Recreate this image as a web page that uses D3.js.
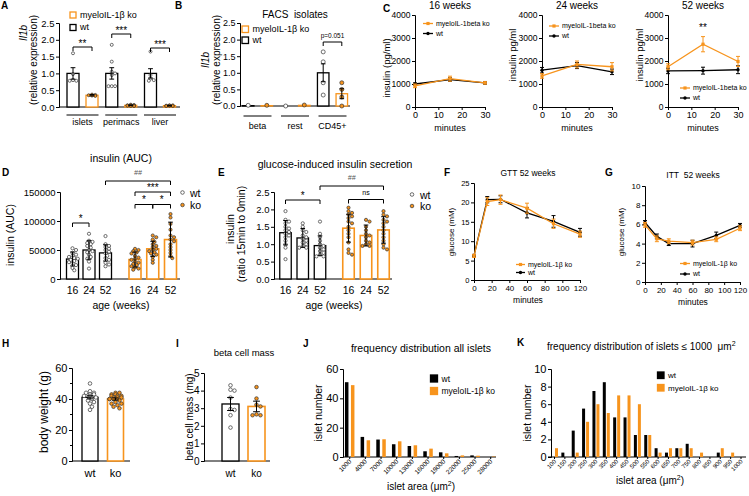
<!DOCTYPE html>
<html>
<head>
<meta charset="utf-8">
<script src="https://cdn.jsdelivr.net/npm/d3@7"></script>
<style>
body { margin: 0; background: #fff; }
svg { display: block; }
</style>
</head>
<body>
<div id="chart"></div>
<script>
var ORANGE = "#f7941d";

// A: Il1b expression
var aGroups = ["islets", "perimacs", "liver"];
var aWtMean = [1.0, 1.0, 1.0], aWtSem = [0.17, 0.17, 0.14];
var aKoMean = [0.35, 0.05, 0.04], aKoSem = [0.02, 0.01, 0.01];
var aWtPts = [[1.6, 0.98, 0.8, 0.78, 0.78], [1.85, 1.35, 1.05, 1.0, 0.95, 0.62, 0.62, 0.62], [1.65, 0.95, 0.85, 0.8, 0.78]];
var aKoPts = [[0.37, 0.36, 0.35, 0.34, 0.33], [0.07, 0.06, 0.05, 0.05, 0.04, 0.04, 0.03, 0.03], [0.05, 0.05, 0.04, 0.04, 0.03, 0.03]];
var relTicks = [0, 0.5, 1, 1.5, 2, 2.5];

// B: FACS isolates
var bGroups = ["beta", "rest", "CD45+"];
var bWtMean = [0.01, 0.0, 1.0], bWtSem = [0, 0, 0.27];
var bKoMean = [0.01, 0.02, 0.37], bKoSem = [0, 0, 0.15];
var bWtPts = [[0.02], [0.0], [1.63, 1.33, 0.7, 0.33]];
var bKoPts = [[0.02], [0.03], [0.7, 0.5, 0.27, 0.0]];

// C: insulin during GTT
var cMinutes = [0, 15, 30];
var cTicksX = [0, 10, 20, 30];
var cTicksY = [0, 1000, 2000, 3000, 4000];
var c16Ko = [920, 1230, 1050], c16KoErr = [80, 110, 50];
var c16Wt = [1000, 1190, 1050], c16WtErr = [50, 80, 60];
var c24Ko = [1350, 1850, 1750], c24KoErr = [100, 150, 180];
var c24Wt = [1600, 1800, 1530], c24WtErr = [120, 130, 120];
var c52Ko = [1750, 2730, 1980], c52KoErr = [130, 330, 220];
var c52Wt = [1570, 1580, 1620], c52WtErr = [120, 150, 170];

// D: insulin AUC
var ages = ["16", "24", "52"];
var dWtMean = [34500, 50000, 45000], dWtSd = [12000, 16000, 14000];
var dKoMean = [33500, 52000, 68000], dKoSd = [13000, 13000, 30000];
var dWtPts = [
  [53000, 50000, 45000, 42000, 40000, 38000, 36000, 35000, 33000, 31000, 29000, 27000, 24000, 19000, 15000],
  [78000, 66000, 64000, 62000, 60000, 57000, 54000, 50000, 48000, 46000, 42000, 38000, 35000, 30000, 18000],
  [74000, 60000, 57000, 55000, 52000, 50000, 47000, 44000, 40000, 36000, 33000, 28000, 25000, 22000]];
var dKoPts = [
  [52000, 50000, 48000, 46000, 44000, 40000, 37000, 35000, 33000, 30000, 28000, 26000, 24000, 22000, 20000, 18000, 16000],
  [75000, 72000, 68000, 64000, 60000, 57000, 55000, 52000, 50000, 48000, 46000, 44000, 42000, 38000, 33000, 28000],
  [112000, 106000, 95000, 85000, 75000, 72000, 68000, 65000, 60000, 55000, 50000, 45000, 40000, 36000]];
var dTicks = [0, 50000, 100000, 150000];

// E: glucose-induced insulin secretion
var eWtMean = [1.33, 1.18, 0.96], eWtSd = [0.35, 0.27, 0.28];
var eKoMean = [1.46, 1.25, 1.41], eKoSd = [0.4, 0.3, 0.38];
var eWtPts = [
  [1.95, 1.7, 1.65, 1.6, 1.5, 1.45, 1.4, 1.35, 1.3, 1.25, 1.2, 1.1, 1.0, 0.9, 0.57],
  [1.6, 1.5, 1.4, 1.35, 1.25, 1.2, 1.15, 1.1, 1.05, 1.0, 0.95, 0.9, 0.9],
  [1.65, 1.3, 1.2, 1.1, 1.0, 0.95, 0.9, 0.85, 0.8, 0.75, 0.7, 0.65, 0.65]];
var eKoPts = [
  [2.05, 1.95, 1.9, 1.85, 1.8, 1.75, 1.65, 1.6, 1.5, 1.4, 1.3, 1.2, 1.05, 0.85, 0.75, 0.7],
  [1.7, 1.65, 1.5, 1.4, 1.3, 1.25, 1.2, 1.1, 1.05, 1.0, 0.95, 0.95],
  [1.95, 1.85, 1.8, 1.7, 1.65, 1.6, 1.5, 1.4, 1.3, 1.2, 1.1, 1.0, 0.9, 0.85]];

// F, G: GTT and ITT at 52 weeks
var ttMinutes = [0, 15, 30, 60, 90, 120];
var ttTicksX = [0, 20, 40, 60, 80, 100, 120];
var gttKo = [6.2, 20.2, 20.7, 18.5, 14.5, 11.8], gttKoErr = [0.4, 1.0, 1.2, 1.3, 1.2, 0.8];
var gttWt = [6.3, 20.7, 20.8, 17.3, 15.1, 12.3], gttWtErr = [0.3, 0.8, 0.9, 1.3, 1.5, 1.0];
var gttTicksY = [0, 5, 10, 15, 20, 25];
var ittKo = [5.95, 4.5, 4.25, 4.1, 4.45, 5.6], ittKoErr = [0.25, 0.3, 0.25, 0.25, 0.25, 0.25];
var ittWt = [6.2, 4.75, 4.0, 4.0, 4.85, 5.9], ittWtErr = [0.2, 0.25, 0.2, 0.35, 0.35, 0.2];
var ittTicksY = [0, 2, 4, 6, 8, 10];

// H: body weight, I: beta cell mass
var hMean = [41.1, 40.0], hSem = [1.0, 0.7];
var hWtPts = [50, 45, 44, 44, 43, 43, 42, 42, 41, 40, 39, 38, 37, 35, 33];
var hKoPts = [44, 44, 43, 43, 42, 42, 42, 41, 41, 41, 40, 40, 40, 39, 38, 37, 37, 36, 35, 34];
var iMean = [3.24, 3.1], iSem = [0.37, 0.3];
var iWtPts = [4.3, 4.05, 4.0, 3.6, 2.95, 2.9, 2.6, 1.9];
var iKoPts = [4.2, 3.55, 3.2, 3.1, 2.65, 2.6, 2.6];

// J, K: islet size distributions
var jCats = ["1000", "4000", "7000", "10000", "13000", "16000", "19000", "22000", "25000", "28000"];
var jWt = [51, 13.7, 11.9, 8.7, 7.5, 3.9, 3.2, 0.7, 1.1, 0];
var jKo = [49, 11.4, 12.1, 10.7, 8, 5.7, 2.5, 1.1, 0.9, 0.3];
var kCats = ["100", "150", "200", "250", "300", "350", "400", "450", "500", "550", "600", "650", "700", "750", "800", "850", "900", "950", "1000"];
var kWt = [0, 0.5, 3, 5.5, 7.5, 8.5, 4.5, 4.5, 2.5, 2.5, 1, 0.5, 1, 1.5, 0, 0, 0.5, 0, 0];
var kKo = [1, 0, 0.5, 4, 6, 5, 7, 7, 6, 2.5, 0.5, 1, 1, 1, 0.5, 0, 1, 0.5, 0];

var svg = d3.select("#chart").append("svg")
    .attr("width", 749)
    .attr("height", 496)
    .attr("font-family", "Liberation Sans, Arial, sans-serif");
svg.append("rect").attr("width", 749).attr("height", 496).attr("fill", "#fff");

function label(x, y, s, size, anchor) {
    return svg.append("text").attr("x", x).attr("y", y).attr("font-size", size)
        .attr("text-anchor", anchor || "middle").text(s);
}
function vlabel(x, y, s, size) {
    return svg.append("text").attr("transform", "translate(" + x + "," + y + ") rotate(-90)")
        .attr("font-size", size).attr("text-anchor", "middle").text(s);
}
function letter(x, y, s) {
    label(x, y, s, 10, "start").attr("font-weight", "bold");
}
function line(d, w, color) {
    return svg.append("path").attr("d", d).attr("fill", "none")
        .attr("stroke", color || "#000").attr("stroke-width", w || 1);
}
function yAxis(x, y, ticks, size, fmt) {
    var g = svg.append("g").attr("transform", "translate(" + x + ",0)")
        .call(d3.axisLeft(y).tickValues(ticks).tickFormat(fmt || d3.format("d"))
            .tickSizeOuter(0).tickSize(3).tickPadding(1.5));
    g.attr("font-family", null).attr("font-size", size);
    g.selectAll("line,path").attr("stroke", "#000");
    return g;
}
function xAxis(yPos, x, ticks, size) {
    var g = svg.append("g").attr("transform", "translate(0," + yPos + ")")
        .call(d3.axisBottom(x).tickValues(ticks).tickSizeOuter(0).tickSize(3).tickPadding(2));
    g.attr("font-family", null).attr("font-size", size);
    g.selectAll("line,path").attr("stroke", "#000");
    return g;
}
function bracket(x1, x2, y, s, size, dy, color, italic) {
    line("M" + x1 + "," + (y + 4) + "V" + y + "H" + x2 + "V" + (y + 4));
    var t = label((x1 + x2) / 2, y - dy, s, size).attr("fill", color || "#000");
    if (italic) t.attr("font-style", "italic");
}

// simple beeswarm so dots do not sit on top of each other
function swarm(vals, y, r, w) {
    var placed = [], lim = Math.max(0, w / 2 - r * 0.3);
    vals.slice().sort(function(a, b) { return b - a; }).forEach(function(v) {
        var cy = y(v), best = 0, bestHits = 1e9;
        for (var k = 0; k < 24; k++) {
            var dx = (k % 2 ? 1 : -1) * Math.ceil(k / 2) * r * 1.1;
            if (Math.abs(dx) > lim) continue;
            var hits = placed.filter(function(p) { return Math.hypot(p.dx - dx, p.cy - cy) < 2 * r * 0.9; }).length;
            if (hits < bestHits) { bestHits = hits; best = dx; }
            if (hits == 0) break;
        }
        placed.push({dx: best, cy: cy, v: v});
    });
    return placed;
}

function dot(x, y, r, ko) {
    svg.append("circle").attr("cx", x).attr("cy", y).attr("r", r)
        .attr("fill", ko ? ORANGE : "#fff").attr("stroke", "#333").attr("stroke-width", 0.7);
}

function barGroup(xc, w, y, mean, err, pts, ko, r, sw) {
    svg.append("rect").attr("x", xc - w / 2).attr("y", y(mean)).attr("width", w)
        .attr("height", Math.max(0, y(0) - y(mean)))
        .attr("fill", "#fff").attr("stroke", ko ? ORANGE : "#000").attr("stroke-width", sw || 1.3);
    swarm(pts, y, r, w).forEach(function(p) { dot(xc + p.dx, p.cy, r, ko); });
    if (err > 0) {
        var cap = w * 0.4;
        line("M" + xc + "," + y(mean - err) + "V" + y(mean + err) +
            "M" + (xc - cap / 2) + "," + y(mean + err) + "h" + cap +
            "M" + (xc - cap / 2) + "," + y(mean - err) + "h" + cap, 1);
    }
}

function series(x, y, xs, vals, errs, color, ko) {
    line(d3.line()(xs.map(function(d, i) { return [x(d), y(vals[i])]; })), 1.3, color);
    xs.forEach(function(d, i) {
        var cx = x(d);
        line("M" + cx + "," + y(vals[i] - errs[i]) + "V" + y(vals[i] + errs[i]) +
            "M" + (cx - 2) + "," + y(vals[i] + errs[i]) + "h4" +
            "M" + (cx - 2) + "," + y(vals[i] - errs[i]) + "h4", 1, color);
        marker(cx, y(vals[i]), color, ko);
    });
}
function marker(cx, cy, color, ko) {
    if (ko) svg.append("rect").attr("x", cx - 1.6).attr("y", cy - 1.6).attr("width", 3.2).attr("height", 3.2).attr("fill", color);
    else svg.append("circle").attr("cx", cx).attr("cy", cy).attr("r", 1.7).attr("fill", color);
}
function lineLegend(x1, x2, y, s, size, color, ko) {
    line("M" + x1 + "," + y + "H" + x2, 1.3, color);
    marker((x1 + x2) / 2, y, color, ko);
    label(x2 + 3, y + size * 0.35, s, size, "start");
}
function squareLegend(x, y, s, size, color, filled, sq) {
    svg.append("rect").attr("x", x).attr("y", y).attr("width", sq).attr("height", sq)
        .attr("fill", filled ? color : "#fff").attr("stroke", color).attr("stroke-width", 1.3);
    label(x + sq + 4, y + sq - 0.5, s, size, "start");
}

// ---------- A ----------
letter(1, 9, "A");
var yA = d3.scaleLinear().domain([0, 2.5]).range([107, 23]);
var xA = d3.scalePoint().domain(aGroups).range([82.5, 160]);
yAxis(59, yA, relTicks, 9.5, d3.format(".1f"));
line("M59,107H180");
aGroups.forEach(function(g, i) {
    barGroup(xA(g) - 9.5, 12, yA, aWtMean[i], aWtSem[i], aWtPts[i], false, 1.5);
    barGroup(xA(g) + 9.5, 12, yA, aKoMean[i], aKoSem[i], aKoPts[i], true, 1.5);
    line("M" + (xA(g) - 16) + ",115H" + (xA(g) + 16));
    label(xA(g), 125, g, 9);
});
vlabel(27, 33, "Il1b", 10).attr("font-style", "italic");
vlabel(36.5, 60, "(relative expression)", 10);
squareLegend(70, 12, "myeloIL-1\u03b2 ko", 9, ORANGE, false, 6);
squareLegend(70, 24.5, "wt", 9, "#000", false, 6);
bracket(xA("islets") - 9.5, xA("islets") + 9.5, 47, "**", 10, 0);
bracket(xA("perimacs") - 9.5, xA("perimacs") + 9.5, 34, "***", 10, 0);
bracket(xA("liver") - 9.5, xA("liver") + 9.5, 48, "***", 10, 0);

// ---------- B ----------
letter(175, 9, "B");
var yB = d3.scaleLinear().domain([0, 2.5]).range([106, 23]);
var xB = d3.scalePoint().domain(bGroups).range([257.5, 332.5]);
yAxis(240, yB, relTicks, 9, d3.format(".1f"));
line("M240,106H350");
bGroups.forEach(function(g, i) {
    barGroup(xB(g) - 9.3, 11.5, yB, bWtMean[i], bWtSem[i], bWtPts[i], false, 2);
    barGroup(xB(g) + 9.3, 11.5, yB, bKoMean[i], bKoSem[i], bKoPts[i], true, 2);
    line("M" + (xB(g) - 14) + ",116H" + (xB(g) + 14));
    label(xB(g), 129, g, 9);
});
vlabel(209, 60, "Il1b", 10).attr("font-style", "italic");
vlabel(219.5, 60, "(relative expression)", 10);
label(295, 18, "FACS\u00a0 isolates", 10);
squareLegend(242, 26, "myeloIL-1\u03b2 ko", 9, ORANGE, false, 6.5);
squareLegend(242, 37, "wt", 9, "#000", false, 6.5);
bracket(xB("CD45+") - 9.3, xB("CD45+") + 9.3, 42, "p=0.051", 6.5, 4.5);

// ---------- C ----------
letter(383, 12, "C");
function insulinPanel(x0, x1, ylab, ylabX, ylabY, title, ko, koErr, wt, wtErr, legX, legY) {
    var x = d3.scaleLinear().domain([0, 30]).range([x0, x1]);
    var y = d3.scaleLinear().domain([0, 4000]).range([107, 15]);
    yAxis(x0, y, cTicksY, 8.5);
    xAxis(107, x, cTicksX, 9);
    label((x0 + x1) / 2, 131, "minutes", 9);
    label((x0 + x1) / 2, 8.5, title, 10);
    vlabel(ylabX, ylabY, ylab, 9.5);
    series(x, y, cMinutes, wt, wtErr, "#000", false);
    series(x, y, cMinutes, ko, koErr, ORANGE, true);
    lineLegend(legX, legX + 10, legY, "myeloIL-1beta ko", 7, ORANGE, true);
    lineLegend(legX, legX + 10, legY + 10, "wt", 7, "#000", false);
    return x;
}
insulinPanel(415, 485, "insulin (pg/ml)", 390, 68, "16 weeks", c16Ko, c16KoErr, c16Wt, c16WtErr, 423, 23.5);
insulinPanel(542, 612, "insulin pg/ml", 516, 55, "24 weeks", c24Ko, c24KoErr, c24Wt, c24WtErr, 549, 26);
var x52 = insulinPanel(668, 738, "insulin pg/ml", 643, 55, "52 weeks", c52Ko, c52KoErr, c52Wt, c52WtErr, 680, 88);
label(x52(15), 31, "**", 10);

// ---------- D ----------
letter(2, 176, "D");
var yD = d3.scaleLinear().domain([0, 150000]).range([279, 192]);
var xDwt = d3.scalePoint().domain(ages).range([72.5, 105.5]);
var xDko = d3.scalePoint().domain(ages).range([135, 170.5]);
yAxis(60, yD, dTicks, 9.5);
line("M60,279H180");
ages.forEach(function(a, i) {
    barGroup(xDwt(a), 12, yD, dWtMean[i], dWtSd[i], dWtPts[i], false, 1.6);
    barGroup(xDko(a), 12, yD, dKoMean[i], dKoSd[i], dKoPts[i], true, 1.6, 1.6);
    label(xDwt(a), 294, a, 10.5);
    label(xDko(a), 294, a, 10.5);
});
label(121, 162, "insulin (AUC)", 10.5);
label(121, 309, "age (weeks)", 10.5);
vlabel(14, 235, "insulin (AUC)", 10.5);
bracket(xDwt("16"), xDwt("24"), 223, "*", 10, 1.5);
bracket(xDwt("52"), xDko("52"), 181, "##", 7, 6, "#555", true);
bracket(xDko("16"), xDko("52"), 192, "***", 10, 1.5);
bracket(xDko("16"), xDko("24"), 204.5, "*", 10, 1.5);
bracket(xDko("24"), xDko("52"), 204.5, "*", 10, 1.5);
dot(182.5, 192.5, 1.8, false);
label(190, 196.5, "wt", 10.5, "start");
dot(182.5, 205, 1.8, true);
label(190, 209, "ko", 10.5, "start");

// ---------- E ----------
letter(218, 176, "E");
var yE = d3.scaleLinear().domain([0, 2.5]).range([279, 192]);
var xEwt = d3.scalePoint().domain(ages).range([285.5, 320]);
var xEko = d3.scalePoint().domain(ages).range([348.5, 383.5]);
yAxis(274, yE, relTicks, 9.5, d3.format(".1f"));
line("M274,279H392");
ages.forEach(function(a, i) {
    barGroup(xEwt(a), 11.5, yE, eWtMean[i], eWtSd[i], eWtPts[i], false, 1.6);
    barGroup(xEko(a), 11.5, yE, eKoMean[i], eKoSd[i], eKoPts[i], true, 1.6, 1.6);
    label(xEwt(a), 294, a, 10.5);
    label(xEko(a), 294, a, 10.5);
});
label(335, 168, "glucose-induced insulin secretion", 10.5);
label(334, 309, "age (weeks)", 10.5);
vlabel(234, 229, "insulin", 10.5);
vlabel(245, 234, "(ratio 15min to 0min)", 10.5);
bracket(xEwt("16"), xEwt("52"), 200, "*", 10, 1.5);
bracket(xEwt("52"), xEko("52"), 186, "##", 7, 6, "#555", true);
bracket(xEko("16"), xEko("52"), 199.5, "ns", 7, 4.5);
dot(412, 194.5, 1.8, false);
label(420, 198.5, "wt", 10.5, "start");
dot(412, 206, 1.8, true);
label(420, 210, "ko", 10.5, "start");

// ---------- F ----------
letter(444, 176, "F");
var xF = d3.scaleLinear().domain([0, 120]).range([474, 580]);
var yF = d3.scaleLinear().domain([0, 25]).range([280, 183]);
yAxis(474, yF, gttTicksY, 7.5);
xAxis(280, xF, ttTicksX, 8);
label(528, 176, "GTT 52 weeks", 8.5);
label(528, 303, "minutes", 8.5);
vlabel(454, 232, "glucose (mM)", 8);
series(xF, yF, ttMinutes, gttWt, gttWtErr, "#000", false);
series(xF, yF, ttMinutes, gttKo, gttKoErr, ORANGE, true);
lineLegend(516, 525, 264.5, "myeloIL-1\u03b2 ko", 7, ORANGE, true);
lineLegend(516, 525, 272.5, "wt", 7, "#000", false);

// ---------- G ----------
letter(605, 176, "G");
var xG = d3.scaleLinear().domain([0, 120]).range([645, 740]);
var yG = d3.scaleLinear().domain([0, 10]).range([282, 186]);
yAxis(645, yG, ittTicksY, 8);
xAxis(282, xG, ttTicksX, 8);
label(693, 178, "ITT\u00a0 52 weeks", 8.5);
label(693, 305, "minutes", 8.5);
vlabel(624, 232, "glucose (mM)", 8);
series(xG, yG, ttMinutes, ittWt, ittWtErr, "#000", false);
series(xG, yG, ttMinutes, ittKo, ittKoErr, ORANGE, true);
lineLegend(680, 690, 263.5, "myeloIL-1\u03b2 ko", 7, ORANGE, true);
lineLegend(680, 690, 274, "wt", 7, "#000", false);

// ---------- H ----------
letter(2, 347, "H");
var yH = d3.scaleLinear().domain([0, 60]).range([461, 368]);
yAxis(72, yH, [0, 20, 40, 60], 11);
[10, 30, 50].forEach(function(t) { line("M72," + yH(t) + "h-2"); });
line("M72,461H130");
barGroup(90, 16, yH, hMean[0], hSem[0], hWtPts, false, 1.8);
barGroup(115.5, 16, yH, hMean[1], hSem[1], hKoPts, true, 1.8, 1.6);
label(90, 477, "wt", 11);
label(115.5, 477, "ko", 11);
vlabel(48, 412, "body weight (g)", 12);

// ---------- I ----------
letter(176, 347, "I");
var yI = d3.scaleLinear().domain([0, 5]).range([461, 373]);
yAxis(204, yI, [0, 1, 2, 3, 4, 5], 10);
line("M204,461H270");
barGroup(230.5, 17, yI, iMean[0], iSem[0], iWtPts, false, 1.8);
barGroup(256.5, 17, yI, iMean[1], iSem[1], iKoPts, true, 1.8, 1.6);
label(230.5, 477, "wt", 10);
label(256.5, 477, "ko", 10);
label(244, 356, "beta cell mass", 9.5);
vlabel(193, 417, "beta cell mass (mg)", 10);

// ---------- J, K ----------
function histPanel(x, y, cats, wt, ko, off, bw, xEnd, tickSize) {
    line("M" + (x.range()[0] - 6.5) + "," + y(0) + "H" + xEnd);
    cats.forEach(function(c, i) {
        svg.append("rect").attr("x", x(c) - off - bw / 2).attr("y", y(wt[i])).attr("width", bw)
            .attr("height", y(0) - y(wt[i])).attr("fill", "#000");
        svg.append("rect").attr("x", x(c) + off - bw / 2).attr("y", y(ko[i])).attr("width", bw)
            .attr("height", y(0) - y(ko[i])).attr("fill", ORANGE);
        line("M" + x(c) + "," + y(0) + "v2");
        svg.append("text").attr("transform", "translate(" + (x(c) + 2) + "," + (y(0) + 5) + ") rotate(-45)")
            .attr("font-size", tickSize).attr("text-anchor", "end").text(c);
    });
}
function areaLabel(x, y, s, size) {
    var t = label(x, y, s, size);
    t.append("tspan").attr("font-size", size * 0.7).attr("dy", -size * 0.4).text("2");
    t.append("tspan").attr("dy", size * 0.4).text(")");
}

letter(303, 347, "J");
var yJ = d3.scaleLinear().domain([0, 60]).range([457, 369]);
var xJ = d3.scalePoint().domain(jCats).range([349.7, 490.7]);
yAxis(343, yJ, [0, 20, 40, 60], 11);
histPanel(xJ, yJ, jCats, jWt, jKo, 3, 3.5, 496, 6.5);
label(421, 352, "frequency distribution all islets", 10.5);
vlabel(322, 413, "islet number", 10.5);
areaLabel(421, 490, "islet area (\u03bcm", 10);
squareLegend(430.5, 375, "wt", 8.5, "#000", true, 7);
squareLegend(430.5, 387.5, "myeloIL-1\u03b2 ko", 8.5, ORANGE, true, 7);

letter(517, 346, "K");
var yK = d3.scaleLinear().domain([0, 10]).range([457, 369]);
var xK = d3.scalePoint().domain(kCats).range([554.5, 741]);
yAxis(551, yK, [0, 2, 4, 6, 8, 10], 11);
histPanel(xK, yK, kCats, kWt, kKo, 2, 3, 746, 6);
var kt = label(547, 350, "frequency distribution of islets \u2264 1000\u00a0 \u03bcm", 10, "start");
kt.append("tspan").attr("font-size", 7).attr("dy", -4).text("2");
vlabel(531, 413, "islet number", 10.5);
areaLabel(650, 484, "islet area (\u03bcm", 10);
squareLegend(657.5, 372, "wt", 8, "#000", true, 6.5);
squareLegend(657.5, 384.5, "myeloIL-1\u03b2 ko", 8, ORANGE, true, 6.5);
</script>
</body>
</html>
